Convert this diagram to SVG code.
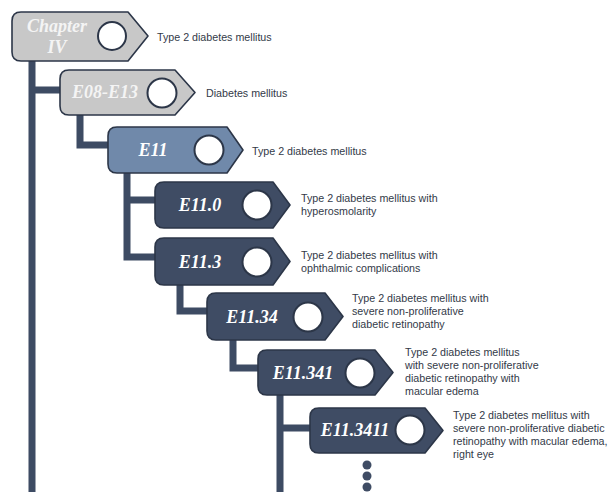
<svg xmlns="http://www.w3.org/2000/svg" width="614" height="492" viewBox="0 0 614 492">
<style>
.bg{fill:#ffffff}
.conn{fill:none;stroke:#3d4b63;stroke-width:7;stroke-linejoin:miter}
.box{stroke:#2c3648;stroke-width:1.6;stroke-linejoin:round}
.light{fill:#c8c8c8}
.mid{fill:#7089aa}
.dark{fill:#3f4c64}
.hole{fill:#ffffff;stroke:#2c3648;stroke-width:2}
.code{font-family:"Liberation Serif",serif;font-weight:bold;font-style:italic;font-size:18px;text-anchor:middle}
.codeL{fill:#f4f4f4}
.codeD{fill:#ffffff}
.lab{font-family:"Liberation Sans",Arial,sans-serif;font-size:10.7px;fill:#333a48}
.dot{fill:#3f4c64}
</style>
<rect class="bg" x="0" y="0" width="614" height="492"/>
<g id="connectors">
<path class="conn" d="M32 61 V492 M32 90 H60"/>
<path class="conn" d="M80 115 V145 H108"/>
<path class="conn" d="M127 173 V257 H155 M127 200 H155"/>
<path class="conn" d="M180 285 V311 H207"/>
<path class="conn" d="M233 340 V368 H258"/>
<path class="conn" d="M280 395 V492 M280 428 H310"/>
</g>
<g id="node-chapter">
<path class="box light" d="M21 12 H128 L148 36 L128 61 H21 Q12 61 12 52 V21 Q12 12 21 12 Z"/>
<circle class="hole" cx="112" cy="36" r="14"/>
<text class="code codeL" x="57" y="32">Chapter</text>
<text class="code codeL" x="57" y="53">IV</text>
<text class="lab" x="157" y="41">Type 2 diabetes mellitus</text>
</g>
<g id="node-e08">
<path class="box light" d="M69 70 H175 L195 92.5 L175 115 H69 Q60 115 60 106 V79 Q60 70 69 70 Z"/>
<circle class="hole" cx="162" cy="93" r="14.5"/>
<text class="code codeL" x="105" y="98">E08-E13</text>
<text class="lab" x="206" y="97">Diabetes mellitus</text>
</g>
<g id="node-e11">
<path class="box mid" d="M117 127 H227 L243 150 L227 173 H117 Q108 173 108 164 V136 Q108 127 117 127 Z"/>
<circle class="hole" cx="209" cy="150" r="14.5"/>
<text class="code codeD" x="153" y="156">E11</text>
<text class="lab" x="252" y="155">Type 2 diabetes mellitus</text>
</g>
<g id="node-e11-0">
<path class="box dark" d="M164 182 H273 L290 205 L273 228 H164 Q155 228 155 219 V191 Q155 182 164 182 Z"/>
<circle class="hole" cx="257" cy="205" r="14.5"/>
<text class="code codeD" x="200" y="211">E11.0</text>
<text class="lab" x="301" y="202">Type 2 diabetes mellitus with</text>
<text class="lab" x="301" y="215">hyperosmolarity</text>
</g>
<g id="node-e11-3">
<path class="box dark" d="M164 238 H273 L290 261.5 L273 285 H164 Q155 285 155 276 V247 Q155 238 164 238 Z"/>
<circle class="hole" cx="257" cy="262" r="14.5"/>
<text class="code codeD" x="200" y="268">E11.3</text>
<text class="lab" x="301" y="259">Type 2 diabetes mellitus with</text>
<text class="lab" x="301" y="272">ophthalmic complications</text>
</g>
<g id="node-e11-34">
<path class="box dark" d="M216 293 H325 L343 316.5 L325 340 H216 Q207 340 207 331 V302 Q207 293 216 293 Z"/>
<circle class="hole" cx="308" cy="317" r="14.5"/>
<text class="code codeD" x="252" y="323">E11.34</text>
<text class="lab" x="352" y="302">Type 2 diabetes mellitus with</text>
<text class="lab" x="352" y="315">severe non-proliferative</text>
<text class="lab" x="352" y="328">diabetic retinopathy</text>
</g>
<g id="node-e11-341">
<path class="box dark" d="M267 350 H375 L393 372.5 L375 395 H267 Q258 395 258 386 V359 Q258 350 267 350 Z"/>
<circle class="hole" cx="360" cy="373" r="14.5"/>
<text class="code codeD" x="303" y="379">E11.341</text>
<text class="lab" x="405" y="356">Type 2 diabetes mellitus</text>
<text class="lab" x="405" y="369">with severe non-proliferative</text>
<text class="lab" x="405" y="382">diabetic retinopathy with</text>
<text class="lab" x="405" y="395">macular edema</text>
</g>
<g id="node-e11-3411">
<path class="box dark" d="M319 408 H425 L443 430.5 L425 453 H319 Q310 453 310 444 V417 Q310 408 319 408 Z"/>
<circle class="hole" cx="410" cy="430" r="14.5"/>
<text class="code codeD" x="355" y="436">E11.3411</text>
<text class="lab" x="453" y="419">Type 2 diabetes mellitus with</text>
<text class="lab" x="453" y="432">severe non-proliferative diabetic</text>
<text class="lab" x="453" y="445">retinopathy with macular edema,</text>
<text class="lab" x="453" y="458">right eye</text>
</g>
<g id="more">
<circle class="dot" cx="367" cy="465" r="4.5"/>
<circle class="dot" cx="367" cy="476" r="4.5"/>
<circle class="dot" cx="367" cy="487" r="4.5"/>
</g>
</svg>
